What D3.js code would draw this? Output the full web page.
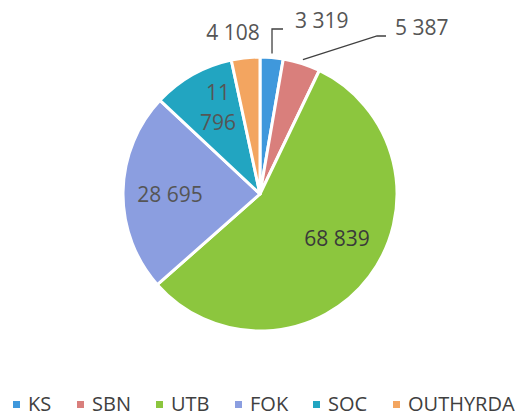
<!DOCTYPE html>
<html><head><meta charset="utf-8">
<script src="https://cdn.jsdelivr.net/npm/d3@7"></script>
<style>body{margin:0;background:#fff}svg{display:block}</style>
</head><body>
<svg id="c" width="521" height="417"></svg>
<script>
const categories = ["KS","SBN","UTB","FOK","SOC","OUTHYRDA"];
const values = [3319,5387,68839,28695,11796,4108];
const labels = ["3 319","5 387","68 839","28 695","11\n796","4 108"];
const colors = ["#3f98dc","#d97f7c","#8cc63e","#8b9ee0","#22a5c1","#f3a560"];

const svg = d3.select("#c");
const cx = 260, cy = 194, R = 137;
const font = "'Open Sans', sans-serif";
const g = svg.append("g").attr("transform",`translate(${cx},${cy})`);
const pie = d3.pie().sort(null).value(d=>d)(values);
const arc = d3.arc().innerRadius(0).outerRadius(R);
g.selectAll("path").data(pie).enter().append("path")
  .attr("d",arc).attr("fill",(d,i)=>colors[i])
  .attr("stroke","#fff").attr("stroke-width",3).attr("stroke-linejoin","round");

// label layout (relative to pie centre)
const labelPos = {0:[35,-173,"start"],1:[135,-166,"start"],2:[77,45,"middle"],3:[-90,1,"middle"],4:[-42,-86,"middle"],5:[-27,-161,"middle"]};
const leaders = {0:[[12,-165],[23,-165]],1:[[117,-158],[126,-158]]};
const outArc = d3.arc().innerRadius(R+4).outerRadius(R+4);
pie.forEach((d,i)=>{
  const [x,y,anchor] = labelPos[i];
  if(leaders[i]){
    const p = outArc.centroid(d);
    g.append("path").attr("d",d3.line()([p].concat(leaders[i])))
      .attr("fill","none").attr("stroke","#404040").attr("stroke-width",1.3);
  }
  const t = g.append("text").attr("text-anchor",anchor)
    .attr("font-family",font).attr("font-size",21).attr("fill",i===2?"#3a3a3a":"#555");
  const lines = labels[i].split("\n");
  lines.forEach((s,k)=>t.append("tspan").attr("x",x)
    .attr("y",y+(k-(lines.length-1)/2)*30).attr("dy","0.35em").text(s));
});

// legend
const legendX = [28,92,171,250,328,408];
const leg = svg.append("g");
categories.forEach((c,i)=>{
  leg.append("rect").attr("x",legendX[i]-15).attr("y",401).attr("width",7).attr("height",7).attr("fill",colors[i]);
  leg.append("text").attr("x",legendX[i]).attr("y",404).attr("dy","0.35em")
    .attr("font-family",font).attr("font-size",20).attr("fill","#404040").text(c);
});
</script>
</body></html>
